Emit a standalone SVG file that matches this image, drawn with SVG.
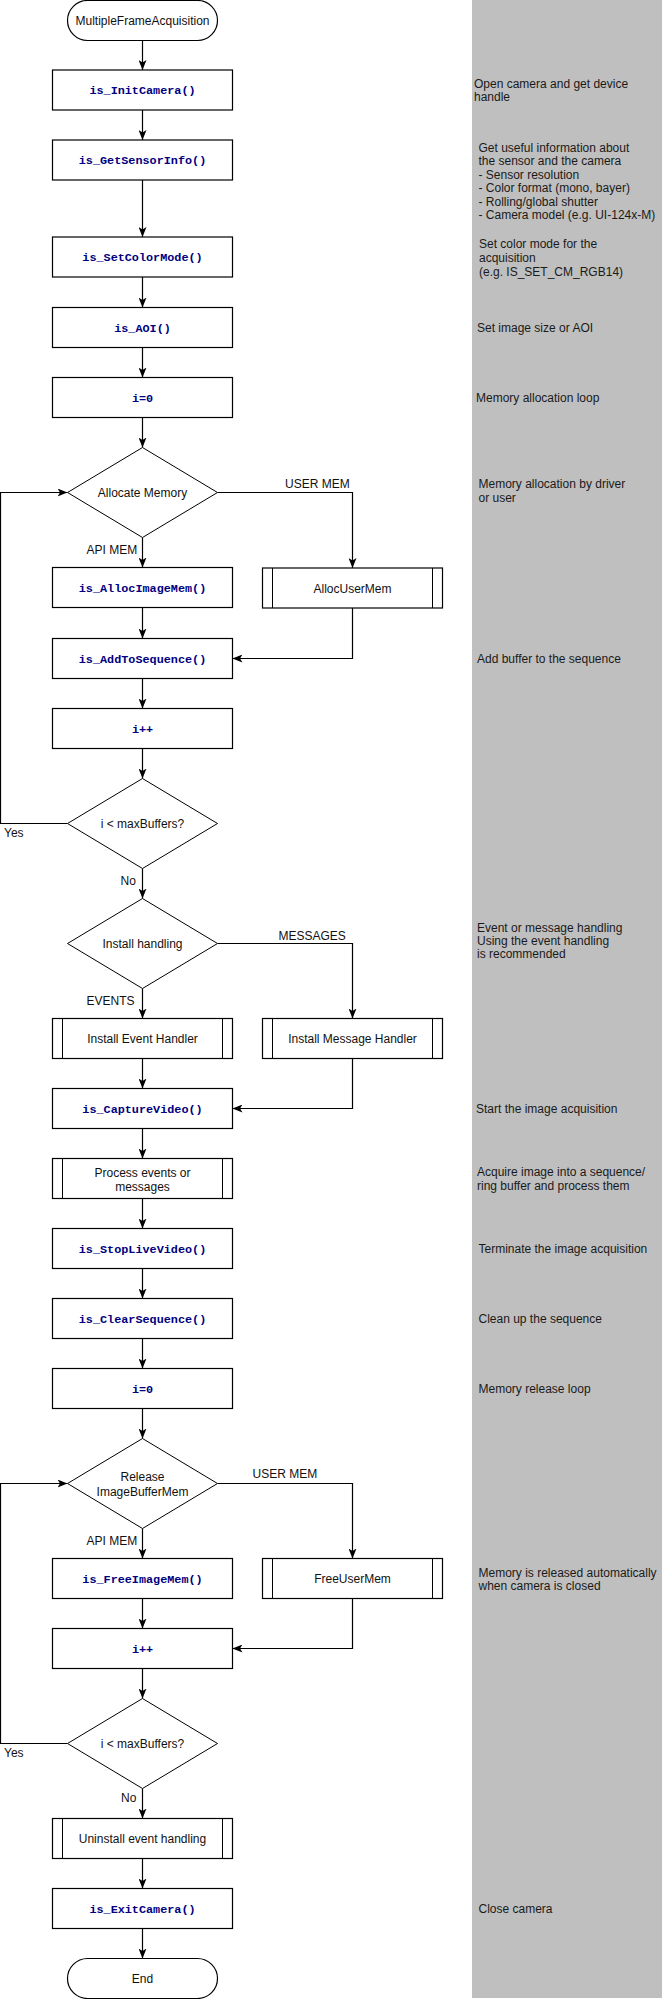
<svg xmlns="http://www.w3.org/2000/svg" width="662" height="1999" viewBox="0 0 662 1999">
<style>
.bg{fill:#ffffff}
.panel{fill:#bfbfbf}
.box{fill:#ffffff;stroke:#000000;stroke-width:1.2}
.dia{fill:#ffffff;stroke:#000000;stroke-width:1}
.sub{fill:none;stroke:#000000;stroke-width:1}
.t{font-family:"Liberation Sans",Arial,sans-serif;font-size:12px;fill:#111111}
.c{text-anchor:middle}
.code{font-family:"Liberation Mono","Courier New",monospace;font-size:11.8px;font-weight:bold;fill:#000080;text-anchor:middle}
.note{font-family:"Liberation Sans",Arial,sans-serif;font-size:12px;fill:#1a1a1a}
.con{fill:none;stroke:#000000;stroke-width:1.2}
.conm{fill:none;stroke:#000000;stroke-width:1.2;marker-end:url(#arr)}
</style>
<defs>
<marker id="arr" viewBox="0 0 10 8" refX="10" refY="4" markerWidth="10" markerHeight="8" markerUnits="userSpaceOnUse" orient="auto">
<path d="M0,0 L10,4 L0,8 L2.5,4 Z" fill="#000000"/>
</marker>
</defs>
<rect class="bg" x="0" y="0" width="662" height="1999"/>
<rect class="panel" x="472" y="0" width="190" height="1998"/>

<g id="connectors">
<path class="conm" d="M142.5,40.5 V70"/>
<path class="conm" d="M142.5,110 V140"/>
<path class="conm" d="M142.5,180 V237"/>
<path class="conm" d="M142.5,277 V307.5"/>
<path class="conm" d="M142.5,347.5 V377.5"/>
<path class="conm" d="M142.5,417.5 V447.5"/>
<path class="conm" d="M142.5,537.5 V567.5"/>
<path class="conm" d="M217.5,492.5 H352.5 V568"/>
<path class="conm" d="M142.5,607.5 V638.5"/>
<path class="conm" d="M352.5,608 V658.5 H232.5"/>
<path class="conm" d="M142.5,678.5 V708.5"/>
<path class="conm" d="M142.5,748.5 V778.5"/>
<path class="conm" d="M67.5,823.5 H0.5 V492.5 H67.5"/>
<path class="conm" d="M142.5,868.5 V898.5"/>
<path class="conm" d="M142.5,988.5 V1018.5"/>
<path class="conm" d="M217.5,943.5 H352.5 V1018.5"/>
<path class="conm" d="M142.5,1058.5 V1088.5"/>
<path class="conm" d="M352.5,1058.5 V1108.5 H232.5"/>
<path class="conm" d="M142.5,1128.5 V1158.5"/>
<path class="conm" d="M142.5,1198.5 V1228.5"/>
<path class="conm" d="M142.5,1268.5 V1298.5"/>
<path class="conm" d="M142.5,1338.5 V1368.5"/>
<path class="conm" d="M142.5,1408.5 V1438.5"/>
<path class="conm" d="M142.5,1528.5 V1558.5"/>
<path class="conm" d="M217.5,1483.5 H352.5 V1558.5"/>
<path class="conm" d="M142.5,1598.5 V1628.5"/>
<path class="conm" d="M352.5,1598.5 V1648.5 H232.5"/>
<path class="conm" d="M142.5,1668.5 V1698.5"/>
<path class="conm" d="M67.5,1743.5 H0.5 V1483.5 H67.5"/>
<path class="conm" d="M142.5,1788.5 V1818.5"/>
<path class="conm" d="M142.5,1858.5 V1888.5"/>
<path class="conm" d="M142.5,1928.5 V1958.5"/>
<text class="t" x="285" y="488">USER MEM</text>
<text class="t" x="86.5" y="554">API MEM</text>
<text class="t" x="4" y="837">Yes</text>
<text class="t" x="120.5" y="885">No</text>
<text class="t" x="278.5" y="940">MESSAGES</text>
<text class="t" x="86.5" y="1005">EVENTS</text>
<text class="t" x="252.5" y="1478">USER MEM</text>
<text class="t" x="86.5" y="1545">API MEM</text>
<text class="t" x="4" y="1757">Yes</text>
<text class="t" x="121" y="1801.5">No</text>
</g>

<g id="start">
<rect class="box" x="67.5" y="0.5" width="150" height="40" rx="20" ry="20"/>
<text class="t c" x="142.5" y="24.5">MultipleFrameAcquisition</text>
</g>
<g id="initCamera">
<rect class="box" x="52.5" y="70" width="180" height="40"/>
<text class="code" x="142.5" y="94">is_InitCamera()</text>
</g>
<g id="getSensorInfo">
<rect class="box" x="52.5" y="140" width="180" height="40"/>
<text class="code" x="142.5" y="164">is_GetSensorInfo()</text>
</g>
<g id="setColorMode">
<rect class="box" x="52.5" y="237" width="180" height="40"/>
<text class="code" x="142.5" y="261">is_SetColorMode()</text>
</g>
<g id="aoi">
<rect class="box" x="52.5" y="307.5" width="180" height="40"/>
<text class="code" x="142.5" y="331.5">is_AOI()</text>
</g>
<g id="i0a">
<rect class="box" x="52.5" y="377.5" width="180" height="40"/>
<text class="code" x="142.5" y="401.5">i=0</text>
</g>
<g id="allocDecision">
<polygon class="dia" points="142.5,447.5 217.5,492.5 142.5,537.5 67.5,492.5"/>
<text class="t c" x="142.5" y="496.5">Allocate Memory</text>
</g>
<g id="allocImageMem">
<rect class="box" x="52.5" y="567.5" width="180" height="40"/>
<text class="code" x="142.5" y="591.5">is_AllocImageMem()</text>
</g>
<g id="allocUserMem">
<rect class="box" x="262.5" y="568" width="180" height="40"/>
<path class="sub" d="M272.5,568 V608 M432.5,568 V608"/>
<text class="t c" x="352.5" y="592.5">AllocUserMem</text>
</g>
<g id="addToSequence">
<rect class="box" x="52.5" y="638.5" width="180" height="40"/>
<text class="code" x="142.5" y="662.5">is_AddToSequence()</text>
</g>
<g id="inc1">
<rect class="box" x="52.5" y="708.5" width="180" height="40"/>
<text class="code" x="142.5" y="732.5">i++</text>
</g>
<g id="loop1">
<polygon class="dia" points="142.5,778.5 217.5,823.5 142.5,868.5 67.5,823.5"/>
<text class="t c" x="142.5" y="827.5">i &lt; maxBuffers?</text>
</g>
<g id="installHandling">
<polygon class="dia" points="142.5,898.5 217.5,943.5 142.5,988.5 67.5,943.5"/>
<text class="t c" x="142.5" y="947.5">Install handling</text>
</g>
<g id="installEvent">
<rect class="box" x="52.5" y="1018.5" width="180" height="40"/>
<path class="sub" d="M62.5,1018.5 V1058.5 M222.5,1018.5 V1058.5"/>
<text class="t c" x="142.5" y="1042.5">Install Event Handler</text>
</g>
<g id="installMessage">
<rect class="box" x="262.5" y="1018.5" width="180" height="40"/>
<path class="sub" d="M272.5,1018.5 V1058.5 M432.5,1018.5 V1058.5"/>
<text class="t c" x="352.5" y="1042.5">Install Message Handler</text>
</g>
<g id="captureVideo">
<rect class="box" x="52.5" y="1088.5" width="180" height="40"/>
<text class="code" x="142.5" y="1112.5">is_CaptureVideo()</text>
</g>
<g id="processEvents">
<rect class="box" x="52.5" y="1158.5" width="180" height="40"/>
<path class="sub" d="M62.5,1158.5 V1198.5 M222.5,1158.5 V1198.5"/>
<text class="t c" x="142.5" y="1176.5">Process events or</text>
<text class="t c" x="142.5" y="1190.5">messages</text>
</g>
<g id="stopLiveVideo">
<rect class="box" x="52.5" y="1228.5" width="180" height="40"/>
<text class="code" x="142.5" y="1252.5">is_StopLiveVideo()</text>
</g>
<g id="clearSequence">
<rect class="box" x="52.5" y="1298.5" width="180" height="40"/>
<text class="code" x="142.5" y="1322.5">is_ClearSequence()</text>
</g>
<g id="i0b">
<rect class="box" x="52.5" y="1368.5" width="180" height="40"/>
<text class="code" x="142.5" y="1392.5">i=0</text>
</g>
<g id="releaseDecision">
<polygon class="dia" points="142.5,1438.5 217.5,1483.5 142.5,1528.5 67.5,1483.5"/>
<text class="t c" x="142.5" y="1481">Release</text>
<text class="t c" x="142.5" y="1495.5">ImageBufferMem</text>
</g>
<g id="freeImageMem">
<rect class="box" x="52.5" y="1558.5" width="180" height="40"/>
<text class="code" x="142.5" y="1582.5">is_FreeImageMem()</text>
</g>
<g id="freeUserMem">
<rect class="box" x="262.5" y="1558.5" width="180" height="40"/>
<path class="sub" d="M272.5,1558.5 V1598.5 M432.5,1558.5 V1598.5"/>
<text class="t c" x="352.5" y="1582.5">FreeUserMem</text>
</g>
<g id="inc2">
<rect class="box" x="52.5" y="1628.5" width="180" height="40"/>
<text class="code" x="142.5" y="1652.5">i++</text>
</g>
<g id="loop2">
<polygon class="dia" points="142.5,1698.5 217.5,1743.5 142.5,1788.5 67.5,1743.5"/>
<text class="t c" x="142.5" y="1747.5">i &lt; maxBuffers?</text>
</g>
<g id="uninstall">
<rect class="box" x="52.5" y="1818.5" width="180" height="40"/>
<path class="sub" d="M62.5,1818.5 V1858.5 M222.5,1818.5 V1858.5"/>
<text class="t c" x="142.5" y="1842.5">Uninstall event handling</text>
</g>
<g id="exitCamera">
<rect class="box" x="52.5" y="1888.5" width="180" height="40"/>
<text class="code" x="142.5" y="1912.5">is_ExitCamera()</text>
</g>
<g id="end">
<rect class="box" x="67.5" y="1958.5" width="150" height="40" rx="20" ry="20"/>
<text class="t c" x="142.5" y="1982.5">End</text>
</g>

<g id="notes">
<text class="note" x="474" y="88">Open camera and get device<tspan x="474" dy="13.4">handle</tspan></text>
<text class="note" x="478.5" y="151.5">Get useful information about<tspan x="478.5" dy="13.5">the sensor and the camera</tspan><tspan x="478.5" dy="13.5">- Sensor resolution</tspan><tspan x="478.5" dy="13.5">- Color format (mono, bayer)</tspan><tspan x="478.5" dy="13.5">- Rolling/global shutter</tspan><tspan x="478.5" dy="13.5">- Camera model (e.g. UI-124x-M)</tspan></text>
<text class="note" x="479" y="248">Set color mode for the<tspan x="479" dy="13.8">acquisition</tspan><tspan x="479" dy="13.8">(e.g. IS_SET_CM_RGB14)</tspan></text>
<text class="note" x="477" y="332">Set image size or AOI</text>
<text class="note" x="476" y="402">Memory allocation loop</text>
<text class="note" x="478.5" y="487.5">Memory allocation by driver<tspan x="478.5" dy="14">or user</tspan></text>
<text class="note" x="477" y="663">Add buffer to the sequence</text>
<text class="note" x="477" y="931.5">Event or message handling<tspan x="477" dy="13.3">Using the event handling</tspan><tspan x="477" dy="13.3">is recommended</tspan></text>
<text class="note" x="476" y="1113">Start the image acquisition</text>
<text class="note" x="477" y="1175.5">Acquire image into a sequence/<tspan x="477" dy="14.3">ring buffer and process them</tspan></text>
<text class="note" x="478.5" y="1253">Terminate the image acquisition</text>
<text class="note" x="478.5" y="1323">Clean up the sequence</text>
<text class="note" x="478.5" y="1393">Memory release loop</text>
<text class="note" x="478.5" y="1576.5">Memory is released automatically<tspan x="478.5" dy="13">when camera is closed</tspan></text>
<text class="note" x="478.5" y="1913">Close camera</text>
</g>
</svg>
